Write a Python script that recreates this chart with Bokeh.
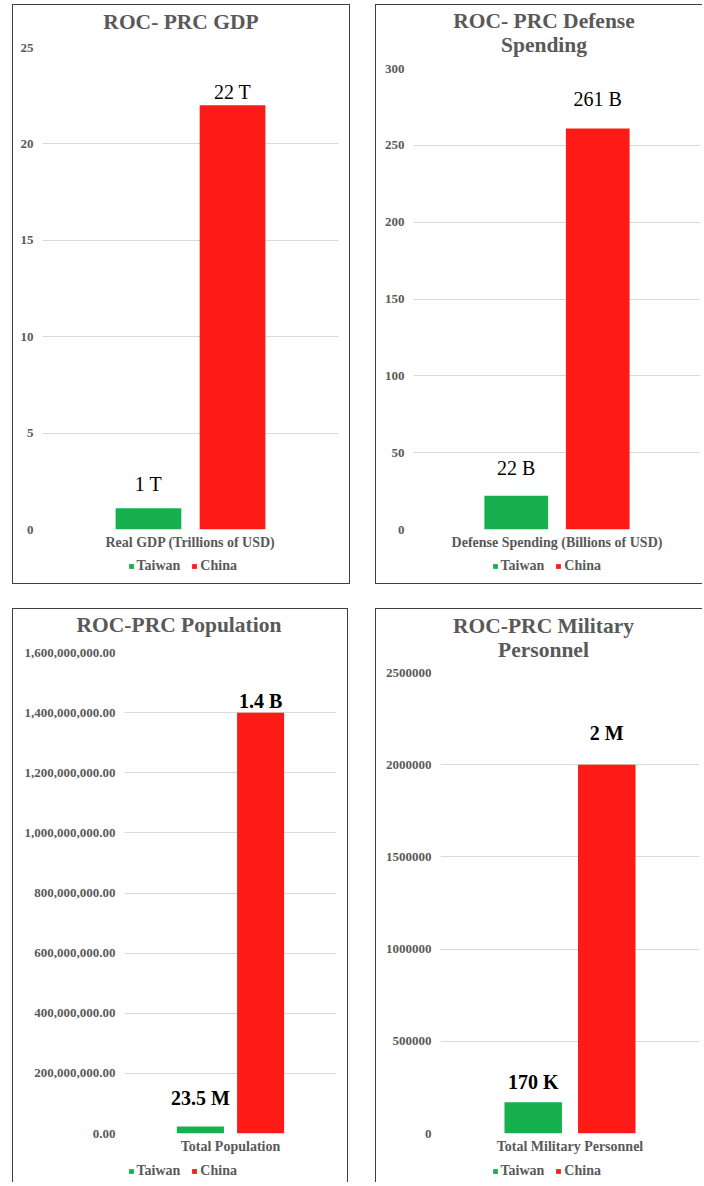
from bokeh.plotting import figure
from bokeh.models import (Range1d, FactorRange, SingleIntervalTicker, NumeralTickFormatter,
                          Legend, LegendItem, ColumnDataSource, Label)
from bokeh.transform import dodge
from bokeh.layouts import row, column
from bokeh.embed import file_html
from bokeh.resources import INLINE
from bokeh.core.properties import value

# ---------------- data ----------------
series = ["Taiwan", "China"]

gdp_category = ["Real GDP (Trillions of USD)"]
gdp_values = [1.1, 22.0]
gdp_labels = ["1 T", "22 T"]

defense_category = ["Defense Spending (Billions of USD)"]
defense_values = [22, 261]
defense_labels = ["22 B", "261 B"]

population_category = ["Total Population"]
population_values = [23.5e6, 1.4e9]
population_labels = ["23.5 M", "1.4 B"]

military_category = ["Total Military Personnel"]
military_values = [170000, 2000000]
military_labels = ["170 K", "2 M"]

# ---------------- style ----------------
COLORS = ["#16b04f", "#fe1a16"]
GRAY = "#595959"
SERIF = "Liberation Serif"
BORDER = "1.5px solid #3f3f3f"
OFFSETS = [-0.142, 0.142]
BAR_W = 0.222


def prep(p, sides):
    if "frame_align" in p.properties():
        p.frame_align = False
    p.styles = {"border-" + s: BORDER for s in sides}
    p.border_fill_color = None
    p.outline_line_color = None


def strip(width, height, sides, x_range=None):
    f = figure(width=width, height=height,
               x_range=x_range if x_range is not None else Range1d(0, 1),
               y_range=Range1d(0, 1), title=None, output_backend="svg",
               toolbar_location=None, min_border=0,
               x_axis_location=None, y_axis_location=None)
    prep(f, sides)
    f.background_fill_color = None
    f.xgrid.visible = False
    f.ygrid.visible = False
    return f


def make_panel(title, cat, vals, labels, ymax, step, fmt, bold_labels, gaps,
               frame, mins, heights, sides, title_pos, legend_pos):
    fw, fh = frame
    mbl, mbr, mbt, mbb = mins
    width = mbl + fw + mbr
    title_h, legend_h = heights
    title_sides, chart_sides, legend_sides = sides

    # ---- title strip ----
    tf = strip(width, title_h, title_sides)
    tf.add_layout(Label(x=title_pos[0], y=title_pos[1], x_units="screen", y_units="screen",
                        text=title, text_align="center", text_baseline="middle",
                        text_font=SERIF, text_font_style="bold", text_font_size="21.5px",
                        text_color=GRAY, text_line_height=1.0))

    # ---- chart ----
    p = figure(width=width, height=mbt + fh + mbb, x_range=FactorRange(*cat),
               y_range=Range1d(0, ymax), title=None,
               output_backend="svg", toolbar_location=None,
               min_border_left=mbl, min_border_right=mbr,
               min_border_top=mbt, min_border_bottom=mbb)
    prep(p, chart_sides)
    p.background_fill_color = "white"
    p.xgrid.visible = False
    p.ygrid.grid_line_color = "#d9d9d9"
    p.ygrid.grid_line_width = 1

    p.yaxis.ticker = SingleIntervalTicker(interval=step)
    if fmt is not None:
        p.yaxis.formatter = NumeralTickFormatter(format=fmt)
    for ax in (p.xaxis, p.yaxis):
        ax.axis_line_color = None
        ax.major_tick_line_color = None
        ax.minor_tick_line_color = None
        ax.major_tick_out = 0
        ax.major_tick_in = 0
        ax.minor_tick_out = 0
        ax.minor_tick_in = 0
        ax.major_label_text_font = SERIF
        ax.major_label_text_font_style = "bold"
        ax.major_label_text_color = GRAY
    p.yaxis.major_label_text_font_size = "13px"
    p.yaxis.major_label_standoff = 9
    p.xaxis.major_label_text_font_size = "14px"
    p.xaxis.major_label_standoff = 5

    # ---- legend strip ----
    lf = strip(width, legend_h, legend_sides, x_range=FactorRange(*cat))
    items = []
    for i, s in enumerate(series):
        src = ColumnDataSource(dict(x=cat, top=[vals[i]], lab=[labels[i]]))
        xd = dodge("x", OFFSETS[i], range=p.x_range)
        p.vbar(x=xd, top="top", width=BAR_W, source=src,
               fill_color=COLORS[i], line_color=None)
        p.text(x=xd, y="top", text="lab", source=src, y_offset=-gaps[i],
               text_align="center", text_baseline="middle",
               text_font=value(SERIF), text_font_size="20px",
               text_font_style="bold" if bold_labels else "normal",
               text_color="black")
        key = lf.vbar(x="x", top="top", width=BAR_W, source=src,
                      fill_color=COLORS[i], line_color=None, visible=False)
        items.append(LegendItem(label=s, renderers=[key]))
    legend = Legend(items=items, orientation="horizontal", location=legend_pos,
                    glyph_width=6, glyph_height=6, label_standoff=3, spacing=11,
                    label_text_font=SERIF, label_text_font_style="bold",
                    label_text_font_size="14px", label_text_color=GRAY,
                    border_line_color=None, background_fill_alpha=0,
                    inactive_fill_alpha=0,
                    padding=0, margin=0, label_height=16)
    lf.add_layout(legend)
    return column(tf, p, lf, spacing=0)


p1 = make_panel("ROC- PRC GDP", gdp_category, gdp_values, gdp_labels,
                25, 5, None, False, [24, 13], (296, 482), (29, 13, 9, 24), (34, 31),
                (["top", "left", "right"], ["left", "right"], ["left", "right", "bottom"]),
                (167.5, 18), (114.5, 10))
p2 = make_panel("ROC- PRC Defense\nSpending", defense_category,
                defense_values, defense_labels, 300, 50, None, False, [28, 29],
                (287, 461), (37, 3, 10, 25), (54, 30),
                (["top", "left"], ["left"], ["left", "bottom"]),
                (167.5, 27), (115.5, 10))
p3 = make_panel("ROC-PRC Population", population_category, population_values,
                population_labels, 1.6e9, 2e8, "0,0.00", True, [28, 12],
                (212, 481), (111, 13, 10, 24), (34, 25),
                (["top", "left", "right"], ["left", "right"], ["left", "right"]),
                (165.5, 18.5), (114.5, 3))
p4 = make_panel("ROC-PRC Military\nPersonnel", military_category,
                military_values, military_labels, 2.5e6, 5e5, "0", True, [20, 32],
                (259, 461), (64, 4, 10, 24), (54, 25),
                (["top", "left"], ["left"], ["left"]),
                (167, 26), (115.5, 3))

layout = column(row(p1, p2, spacing=25), row(p3, p4, spacing=27), spacing=24,
                margin=(4, 0, 0, 12))

open("out.html", "w").write(file_html(layout, INLINE))
